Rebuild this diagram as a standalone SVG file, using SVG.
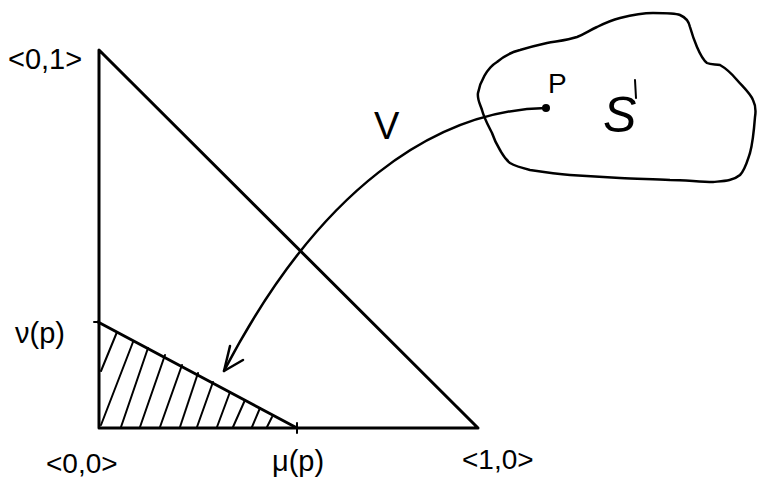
<svg xmlns="http://www.w3.org/2000/svg" width="757" height="481" viewBox="0 0 757 481">
<style>
.ln{fill:none;stroke:#000;stroke-linecap:round;stroke-linejoin:round}
.thick{stroke-width:3}
.mid{stroke-width:2.5}
.thin{stroke-width:2}
.lbl{font-family:"Liberation Sans",sans-serif;fill:#000}
</style>
<rect width="757" height="481" fill="#fff"/>
<g id="triangle">
<path class="ln thick" d="M99,50 L99,428 L478,428 Z"/>
</g>
<g id="region">
<path class="ln thick" d="M98,322 L297,428"/>
<path class="ln thin" d="M94,322 L99,322 M297,423 L297,433"/>
<g class="ln thin">
<path d="M101,371 L117,332"/>
<path d="M101,425 L133,342"/>
<path d="M121,427 L148,348"/>
<path d="M140,427 L165,355"/>
<path d="M160,427 L182,365"/>
<path d="M180,427 L198,373"/>
<path d="M197,427 L213,382"/>
<path d="M217,427 L230,392"/>
<path d="M233,427 L245,400"/>
<path d="M252,427 L260,408"/>
<path d="M267,427 L272,417"/>
</g>
</g>
<g id="set-S">
<path class="ln mid" d="M478,93 C480,82 487,68 497,62 C505,55 512,52 520,50 C530,47 538,45 547,43 C558,41 568,40 577,37 C585,34 590,30 597,27 C605,23 612,20 620,18 C632,15 643,13 653,13 C665,13 675,13 680,15 C687,18 689,22 690,27 C692,34 694,40 697,47 C700,54 703,60 707,63 C711,65 716,64 720,65 C727,69 732,74 737,80 C743,87 750,93 753,100 C756,106 756,111 755,117 C754,130 753,142 750,153 C747,162 745,170 740,175 C733,181 723,181 713,182 C700,182 685,180 670,180 C653,179 637,179 620,178 C603,177 587,176 570,175 C556,174 543,172 530,170 C522,168 515,166 510,163 C505,159 503,155 500,150 C497,145 494,139 492,133 C488,125 484,118 482,110 C480,104 477,99 478,93 Z"/>
<text class="lbl" x="603" y="132" font-size="50" font-style="italic" font-family="Liberation Serif,serif">S</text>
<path class="ln thin" d="M635,80 L636,98"/>
</g>
<g id="point-p">
<circle cx="546" cy="108" r="4" fill="#000"/>
<text class="lbl" x="548" y="93" font-size="28">P</text>
</g>
<g id="connectors">
<path class="ln mid" d="M546,108 C435,110 318,190 224,371"/>
<path class="ln mid" d="M230,346 L224,371 L243,360"/>
</g>
<g id="labels">
<text class="lbl" x="374" y="139" font-size="38">V</text>
<text class="lbl" x="8" y="69" font-size="29">&lt;0,1&gt;</text>
<text class="lbl" x="15" y="343" font-size="29">ν(p)</text>
<text class="lbl" x="46" y="473" font-size="28">&lt;0,0&gt;</text>
<text class="lbl" x="272" y="471" font-size="29">μ(p)</text>
<text class="lbl" x="462" y="469" font-size="28">&lt;1,0&gt;</text>
</g>
</svg>
